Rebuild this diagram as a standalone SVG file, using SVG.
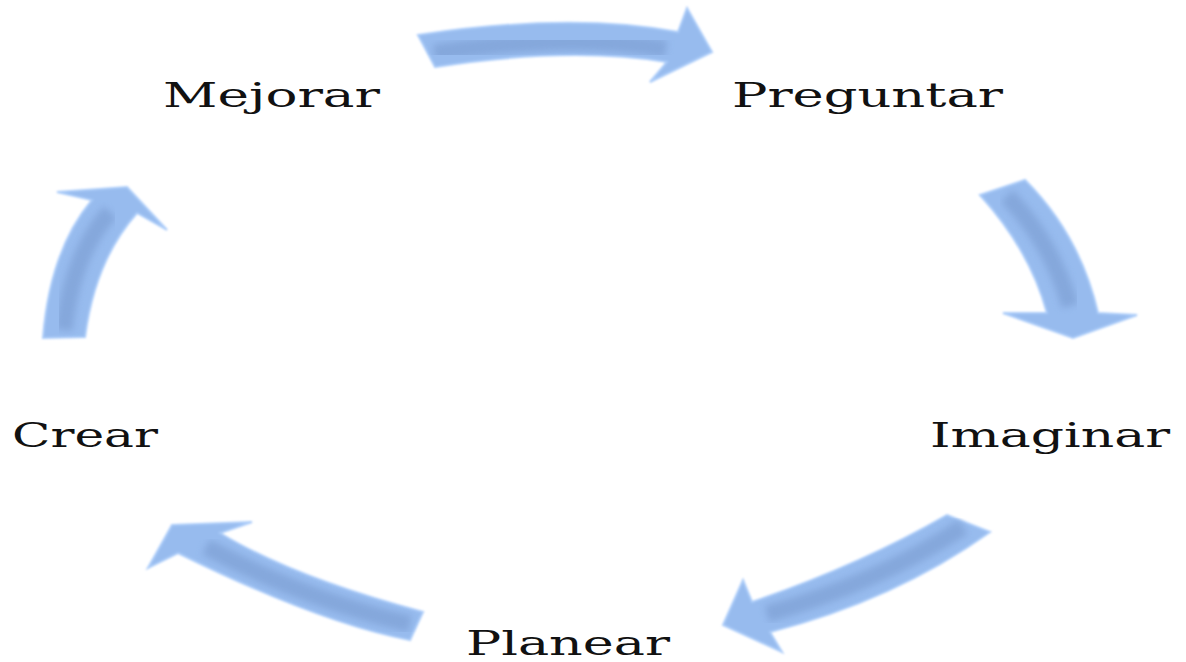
<svg xmlns="http://www.w3.org/2000/svg" width="1186" height="662" viewBox="0 0 1186 662">
<defs>
<filter id="soft" x="-10%" y="-10%" width="120%" height="120%">
<feGaussianBlur stdDeviation="0.9"/>
</filter>
<filter id="band" x="-10%" y="-10%" width="120%" height="120%">
<feGaussianBlur stdDeviation="3.5"/>
</filter>
<style>
.arrow{fill:#97bbee;stroke:#abccf9;stroke-width:2;stroke-linejoin:miter;filter:url(#soft)}
.shade{fill:none;stroke:#7f a1d5;stroke:#7fa1d5;stroke-width:17;stroke-linecap:butt;filter:url(#band);opacity:0.75}
.lbl{font-family:"DejaVu Serif","Liberation Serif",serif;font-size:34px;fill:#111}
</style>
</defs>
<g id="connectors">
<path class="arrow" d="M418,35 Q572,12 678,32 L687,8 L712,52 L650,82 L667,62 Q569,46 435,67 Z"/>
<path class="shade" d="M434,53 Q570,33 666,49"/>
<path class="arrow" d="M980,195 Q1030,250 1047,313 L1003,313 L1073,338 L1137,315 L1098,313 Q1080,235 1025,180 Z"/>
<path class="shade" d="M1007,196 Q1052,243 1070,306"/>
<path class="arrow" d="M947,515 Q860,565 752,602 L743,580 L723,625 L782,652 L770,632 Q895,600 990,532 Z"/>
<path class="shade" d="M963,527 Q878,583 767,614"/>
<path class="arrow" d="M423,612 Q292,577 220,533 L252,522 L172,525 L148,568 L178,553 Q320,623 410,640 Z"/>
<path class="shade" d="M410,624 Q306,600 206,547"/>
<path class="arrow" d="M43,338 Q50,250 92,200 L57,192 L127,187 L167,230 L137,213 Q95,260 85,337 Z"/>
<path class="shade" d="M64,330 Q72,255 110,212"/>
</g>
<g id="node-mejorar"><text class="lbl" x="163" y="107" textLength="217" lengthAdjust="spacingAndGlyphs">Mejorar</text></g>
<g id="node-preguntar"><text class="lbl" x="732" y="107" textLength="271" lengthAdjust="spacingAndGlyphs">Preguntar</text></g>
<g id="node-imaginar"><text class="lbl" x="930" y="447" textLength="240" lengthAdjust="spacingAndGlyphs">Imaginar</text></g>
<g id="node-crear"><text class="lbl" x="12" y="447" textLength="146" lengthAdjust="spacingAndGlyphs">Crear</text></g>
<g id="node-planear"><text class="lbl" x="466" y="655" textLength="204" lengthAdjust="spacingAndGlyphs">Planear</text></g>
</svg>
